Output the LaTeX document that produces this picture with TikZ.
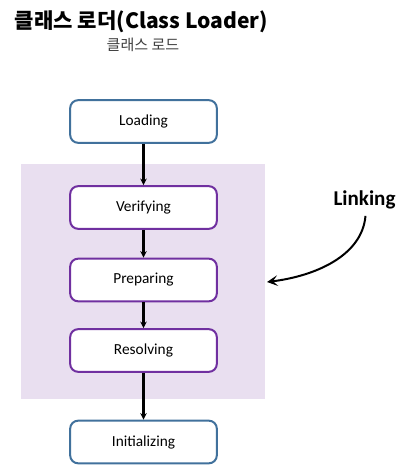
\documentclass[tikz,border=0pt]{standalone}
\usepackage{fontspec}
\setmainfont{Carlito}
\newfontfamily\krfont{Noto Sans CJK KR}
\usetikzlibrary{arrows.meta}
\definecolor{bcol}{HTML}{41719C}
\definecolor{pcol}{HTML}{7030A0}
\definecolor{lcol}{HTML}{E9DFF0}
\definecolor{scol}{HTML}{404040}
\tikzset{
  stage/.style={draw, line width=1.5pt, rounded corners=6pt, fill=white,
    minimum width=110pt, minimum height=32pt, font=\fontsize{11.5}{13}\selectfont},
  outer/.style={stage, draw=bcol},
  inner/.style={stage, draw=pcol},
  flow/.style={->, line width=1.7pt}
}

\begin{document}
\begin{tikzpicture}[x=0.75pt, y=-0.75pt, >={Stealth[length=5pt, width=5pt]}]
\useasboundingbox (0,0) rectangle (400,476);
\fill[lcol] (21,164) rectangle (265,398.5);
\node[font=\krfont\bfseries\fontsize{15.8}{18}\selectfont] (title) at (141.5,22) {클래스 로더(Class Loader)};
\node[font=\krfont\fontsize{11.3}{13}\selectfont, scol] (subtitle) at (143,45) {클래스 로드};
\node[outer] (loading) at (143.5,121.5) {Loading};
\node[inner] (verifying) at (143.5,207.5) {Verifying};
\node[inner] (preparing) at (143.5,280) {Preparing};
\node[inner] (resolving) at (143.5,350.5) {Resolving};
\node[outer] (initializing) at (143.5,442) {Initializing};
\draw[flow] (loading) -- (verifying);
\draw[flow] (verifying) -- (preparing);
\draw[flow] (preparing) -- (resolving);
\draw[flow] (resolving) -- (initializing);
\node[font=\bfseries\fontsize{15.8}{18}\selectfont] (linking) at (364.5,200) {Linking};
\coordinate (linkend) at (267,282);
\draw[->, line width=1.5pt, >={Stealth[length=8pt, width=8pt, inset=3.5pt]}]
  (linking.south) ++(1,2) .. controls (362,256) and (315,276) .. (linkend);
\end{tikzpicture}
\end{document}
